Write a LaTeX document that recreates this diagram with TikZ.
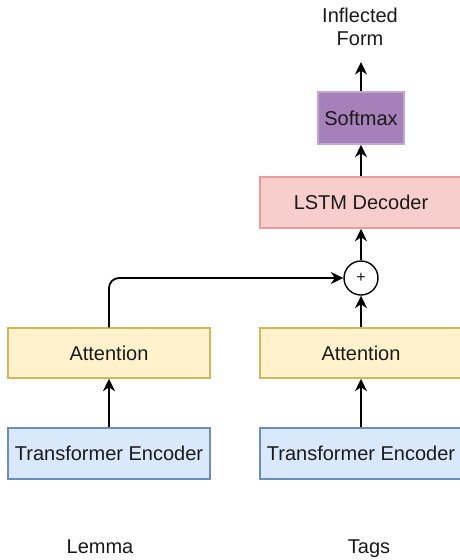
\documentclass[tikz,border=0pt]{standalone}
\usepackage{fontspec}
\setmainfont{Liberation Sans}
\usetikzlibrary{arrows.meta}
\definecolor{yfill}{HTML}{FFF2CC}
\definecolor{ydraw}{HTML}{D6B656}
\definecolor{bfill}{HTML}{DAE8FC}
\definecolor{bdraw}{HTML}{6C8EBF}
\definecolor{rfill}{HTML}{F8CECC}
\definecolor{rdraw}{HTML}{EA9C9A}
\definecolor{pfill}{HTML}{A680B8}
\definecolor{pdraw}{HTML}{C3A6D2}
\definecolor{txt}{HTML}{1A1A1A}
\tikzset{
  box/.style={draw, line width=1.5pt, rectangle, minimum width=202pt, inner sep=0pt, font=\fontsize{20pt}{23pt}\selectfont, text=txt},
  attbox/.style={box, fill=yfill, draw=ydraw, minimum height=50pt},
  encbox/.style={box, fill=bfill, draw=bdraw, minimum height=51pt},
  lstmbox/.style={box, fill=rfill, draw=rdraw, minimum height=51pt},
  smbox/.style={box, fill=pfill, draw=pdraw, minimum width=86pt, minimum height=52pt},
  lbl/.style={font=\fontsize{20pt}{23pt}\selectfont, text=txt, align=center, inner sep=0pt},
  conn/.style={line width=1.8pt, -{Stealth[length=12.5pt,width=12pt,inset=4pt]}},
}
\begin{document}
\begin{tikzpicture}[x=1pt,y=-1pt]
\useasboundingbox[fill=white] (0,0) rectangle (459,560);
\node[attbox] (attL) at (109,353) {Attention};
\node[encbox] (encL) at (109,453.5) {Transformer Encoder};
\node[attbox] (attR) at (361,353) {Attention};
\node[encbox] (encR) at (361,453.5) {Transformer Encoder};
\node[circle, draw, fill=white, line width=1.4pt, minimum size=34pt, inner sep=0pt, font=\fontsize{16pt}{16pt}\selectfont, text=txt] (plus) at (361,278) {+};
\node[lstmbox] (lstm) at (361,202.5) {LSTM Decoder};
\node[smbox] (sm) at (361,118) {Softmax};
\coordinate (out) at (361,62);
\node[lbl] (form) at (360,27) {Inflected\\Form};
\node[lbl, anchor=base] (lemma) at (100,553) {Lemma};
\node[lbl, anchor=base] (tags) at (369,553) {Tags};
\draw[conn] (encL) -- (attL);
\draw[conn] (encR) -- (attR);
\draw[conn] (attR) -- (plus);
\draw[conn, rounded corners=10pt] (attL.north) |- (plus.west);
\draw[conn] (plus) -- (lstm);
\draw[conn] (lstm) -- (sm);
\draw[conn] (sm) -- (out);
\end{tikzpicture}
\end{document}
